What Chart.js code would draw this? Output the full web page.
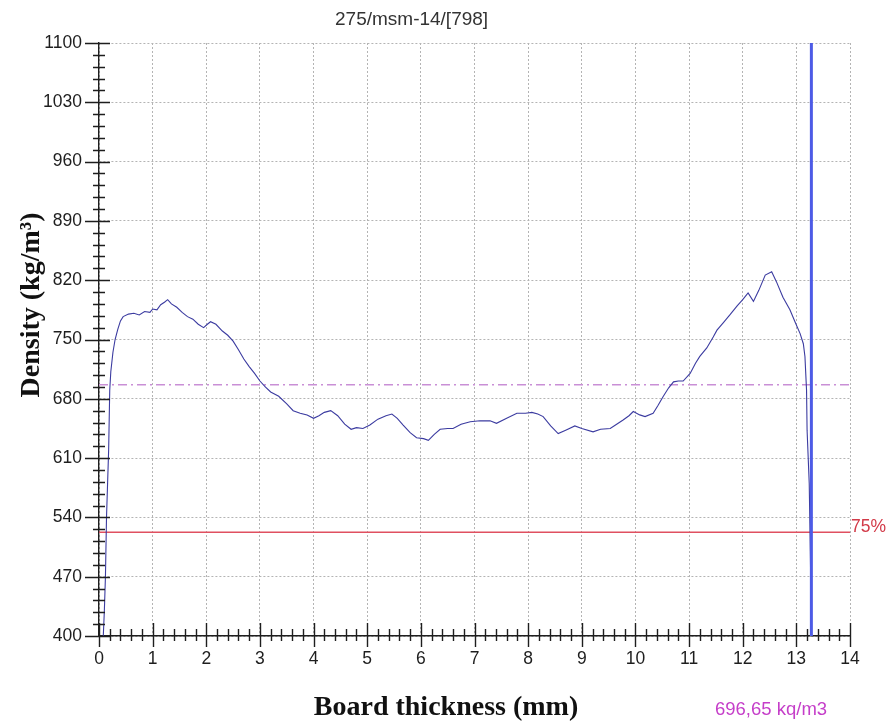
<!DOCTYPE html>
<html>
<head>
<meta charset="utf-8">
<script src="https://cdn.jsdelivr.net/npm/chart.js@4.4.1/dist/chart.umd.min.js"></script>
<style>
  html, body { margin: 0; padding: 0; background: #ffffff; }
  #wrap { width: 892px; height: 727px; position: relative; }
</style>
</head>
<body>
<div id="wrap"><canvas id="c" width="892" height="727"></canvas></div>
<script>
// ---- data ----
const thicknessMm = [0.08,0.10,0.12,0.14,0.16,0.18,0.20,0.22,0.26,0.30,0.35,0.40,0.45,0.55,0.65,0.75,0.85,0.95,1.00,1.08,1.15,1.22,1.28,1.35,1.45,1.55,1.65,1.75,1.85,1.95,2.02,2.08,2.18,2.30,2.40,2.50,2.60,2.70,2.80,2.90,3.00,3.10,3.20,3.35,3.50,3.62,3.75,3.88,4.00,4.10,4.20,4.32,4.45,4.58,4.70,4.80,4.92,5.05,5.20,5.35,5.46,5.56,5.67,5.80,5.92,6.05,6.14,6.25,6.36,6.50,6.60,6.75,6.92,7.10,7.29,7.41,7.60,7.79,7.95,8.07,8.18,8.28,8.42,8.56,8.70,8.87,9.00,9.21,9.35,9.53,9.65,9.77,9.88,9.96,10.08,10.18,10.33,10.42,10.52,10.62,10.71,10.80,10.89,11.02,11.12,11.20,11.33,11.45,11.52,11.64,11.76,11.90,12.00,12.10,12.20,12.30,12.42,12.54,12.63,12.75,12.88,12.98,13.07,13.13,13.16,13.19,13.20,13.24,13.26,13.28];
const densityKgM3 = [400,430,470,540,580,620,690,712,735,750,762,772,777,780,781,779,783,782,786,785,791,794,797,792,788,782,777,774,768,764,768,771,768,760,755,748,738,727,718,710,701,694,688,683,674,666,663,661,657,660,664,666,660,650,644,646,645,649,656,660,662,657,649,640,634,633,631,638,644,645,645,650,653,654,654,651,657,663,663,664,662,659,648,639,643,648,645,641,644,645,650,655,660,665,661,659,663,672,683,693,700,701,701,710,722,730,740,753,761,770,779,790,797,805,795,808,826,830,818,800,785,770,757,745,730,690,643,580,500,415];
const meanDensity = 696.65;
const percent75 = 522.5;          // 75% of mean density
const markerThickness = 13.28;    // vertical blue marker
const xRange = [0, 14];
const yRange = [400, 1100];
const yTickStep = 70;
const xTickStep = 1;
const sampleTitle = "275/msm-14/[798]";
const xAxisTitle = "Board thickness (mm)";
const yAxisTitle = "Density (kg/m\u00B3)";
const meanLabel = "696,65 kq/m3";
const percentLabel = "75%";

const profilePoints = thicknessMm.map((x, i) => ({ x: x, y: densityKgM3[i] }));

// ---- custom plugin: crossing tick marks + free texts ----
const decorPlugin = {
  id: 'decor',
  afterDraw(chart) {
    const ctx = chart.ctx;
    const xs = chart.scales.x, ys = chart.scales.y;
    const ax = xs.getPixelForValue(xRange[0]);
    const ay = ys.getPixelForValue(yRange[0]);
    ctx.save();
    ctx.strokeStyle = '#1e1e1e';
    ctx.lineWidth = 1.4;
    ctx.beginPath();
    // y ticks: 5 subdivisions per major step
    for (let k = 0; k <= (yRange[1] - yRange[0]) / (yTickStep / 5); k++) {
      const v = yRange[0] + k * yTickStep / 5;
      const py = Math.round(ys.getPixelForValue(v)) + 0.5;
      if (k % 5 === 0) { ctx.moveTo(ax - 14, py); ctx.lineTo(ax + 11, py); }
      else { ctx.moveTo(ax - 6, py); ctx.lineTo(ax + 6, py); }
    }
    // x ticks: 5 subdivisions per mm
    for (let k = 0; k <= (xRange[1] - xRange[0]) * 5; k++) {
      const v = xRange[0] + k * xTickStep / 5;
      const px = Math.round(xs.getPixelForValue(v)) + 0.5;
      if (k % 5 === 0) { ctx.moveTo(px, ay - 13); ctx.lineTo(px, ay + 11); }
      else { ctx.moveTo(px, ay - 7); ctx.lineTo(px, ay + 5); }
    }
    ctx.stroke();

    // top sample title
    ctx.fillStyle = '#333333';
    ctx.font = '19px "Liberation Sans", Arial, sans-serif';
    ctx.textAlign = 'left';
    ctx.textBaseline = 'alphabetic';
    ctx.fillText(sampleTitle, 335, 25);

    // 75% label
    ctx.fillStyle = '#d23a48';
    ctx.font = '17.5px "Liberation Sans", Arial, sans-serif';
    ctx.fillText(percentLabel, xs.right + 1, ys.getPixelForValue(percent75));

    // mean label
    ctx.fillStyle = '#c53ec9';
    ctx.font = '18.5px "Liberation Sans", Arial, sans-serif';
    ctx.fillText(meanLabel, 715, 715);

    // x axis title
    ctx.fillStyle = '#111111';
    ctx.font = 'bold 28px "Liberation Serif", "Times New Roman", serif';
    ctx.textAlign = 'center';
    ctx.fillText(xAxisTitle, 446, 715);

    // y axis title
    ctx.translate(39, 305);
    ctx.rotate(-Math.PI / 2);
    ctx.fillText(yAxisTitle, 0, 0);
    ctx.restore();
  }
};

const tickFont = { family: '"Liberation Sans", Arial, sans-serif', size: 17.5 };
const plainNumber = v => String(v);

new Chart(document.getElementById('c'), {
  type: 'scatter',
  data: {
    datasets: [
      {
        label: 'Density profile',
        data: profilePoints,
        showLine: true,
        borderColor: '#3b3ba0',
        borderWidth: 1.1,
        pointRadius: 0,
        tension: 0,
        order: 1
      },
      {
        label: 'Mean density',
        data: [{ x: xRange[0], y: meanDensity }, { x: xRange[1], y: meanDensity }],
        showLine: true,
        borderColor: '#c98fd6',
        borderWidth: 1.5,
        borderDash: [9, 4, 2, 4],
        pointRadius: 0,
        order: 3
      },
      {
        label: '75%',
        data: [{ x: xRange[0], y: percent75 }, { x: xRange[1], y: percent75 }],
        showLine: true,
        borderColor: '#e05060',
        borderWidth: 1.6,
        pointRadius: 0,
        order: 2
      },
      {
        label: 'Marker',
        data: [{ x: markerThickness, y: yRange[0] }, { x: markerThickness, y: yRange[1] }],
        showLine: true,
        borderColor: '#4d5be6',
        borderWidth: 3,
        pointRadius: 0,
        order: 0
      }
    ]
  },
  options: {
    responsive: false,
    animation: false,
    devicePixelRatio: 1,
    layout: { padding: { left: 0, top: 43, right: 42, bottom: 0 } },
    plugins: { legend: { display: false }, tooltip: { enabled: false }, title: { display: false } },
    scales: {
      x: {
        type: 'linear',
        min: xRange[0], max: xRange[1],
        afterFit: s => { s.height = 91; },
        ticks: { stepSize: xTickStep, font: tickFont, color: '#1e1e1e', padding: 13, maxRotation: 0, autoSkip: false, callback: plainNumber },
        grid: { color: '#b4b4b4', lineWidth: 1, drawTicks: false },
        border: { display: true, color: '#1e1e1e', width: 1.4, dash: [2, 2] }
      },
      y: {
        type: 'linear',
        min: yRange[0], max: yRange[1],
        afterFit: s => { s.width = 99; },
        ticks: { stepSize: yTickStep, font: tickFont, color: '#1e1e1e', padding: 17, autoSkip: false, callback: plainNumber },
        grid: { color: '#b4b4b4', lineWidth: 1, drawTicks: false },
        border: { display: true, color: '#1e1e1e', width: 1.4, dash: [2, 2] }
      }
    }
  },
  plugins: [decorPlugin]
});
</script>
</body>
</html>
